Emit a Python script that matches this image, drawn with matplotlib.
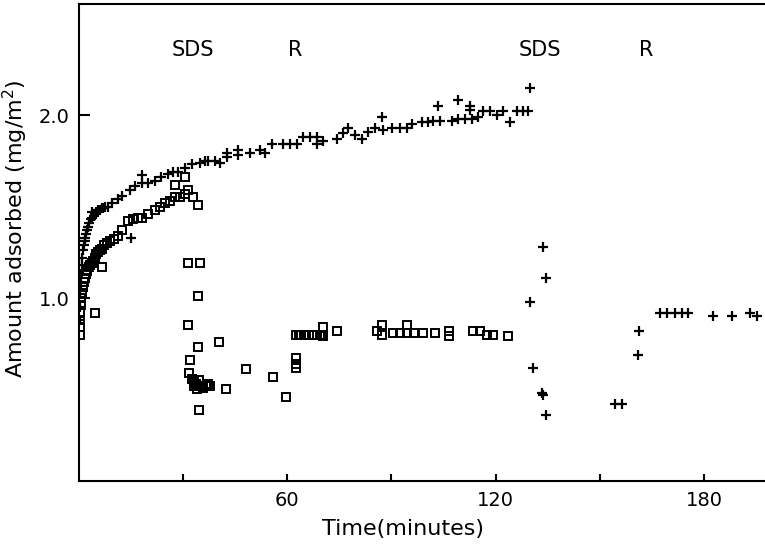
import matplotlib
matplotlib.use("Agg")
import matplotlib.pyplot as plt

plt.rcParams['font.family'] = ['DejaVu Sans']

# Plus series: first SDS/rinse cycle and second cycle
plus_t = [0.2, 0.3, 0.4, 0.5, 0.6, 0.8, 1.0, 1.2, 1.4, 1.6, 1.8, 2.0, 2.3, 2.6, 3.0,
          3.4, 3.7, 3.8, 4.2, 4.6, 5.0, 5.5, 6.0, 6.5, 7.0, 7.5, 8.4, 9.5, 11.2, 12.5,
          14.7, 14.9, 16.0, 18.1, 18.1, 20.0, 21.9, 23.5, 25.6, 27.0, 28.5, 30.5, 32.6,
          34.9, 36.3, 37.2, 39.2, 40.6, 42.6, 42.6, 45.8, 45.8, 49.3, 52.1, 53.6, 55.6,
          58.8, 60.8, 62.8, 64.5, 66.6, 68.6, 68.6, 70.3, 74.3, 76.1, 77.5, 79.5, 81.5,
          83.3, 85.3, 87.3, 87.6, 90.2, 92.5, 94.5, 95.9, 98.8, 100.5, 102.0, 103.4,
          104.0, 107.5, 109.2, 109.2, 111.2, 112.6, 112.6, 113.2, 115.0, 116.4, 118.4,
          120.4, 122.2, 124.2, 126.2, 127.9, 129.4, 129.9,
          133.7, 134.5, 129.9, 130.8, 133.4, 133.6, 134.5, 154.4, 156.4, 161.0, 161.3,
          167.4, 169.5, 171.6, 173.7, 175.5, 182.7, 188.1, 193.3, 195.3]
plus_v = [0.88, 0.95, 1.02, 1.08, 1.13, 1.18, 1.22, 1.26, 1.29, 1.31, 1.33, 1.35, 1.37, 1.39, 1.41,
          1.43, 1.47, 1.44, 1.45, 1.46, 1.47, 1.48, 1.48, 1.49, 1.49, 1.50, 1.50, 1.52, 1.54, 1.56,
          1.59, 1.33, 1.61, 1.63, 1.67, 1.63, 1.64, 1.66, 1.68, 1.69, 1.69, 1.71, 1.73,
          1.74, 1.75, 1.75, 1.75, 1.74, 1.79, 1.77, 1.81, 1.78, 1.79, 1.81, 1.79, 1.84,
          1.84, 1.84, 1.84, 1.88, 1.88, 1.88, 1.84, 1.86, 1.87, 1.90, 1.93, 1.89, 1.87,
          1.91, 1.93, 1.99, 1.92, 1.93, 1.93, 1.93, 1.95, 1.96, 1.96, 1.97, 2.05,
          1.97, 1.97, 1.98, 2.08, 1.98, 2.05, 2.03, 1.98, 1.99, 2.02, 2.02,
          2.00, 2.02, 1.96, 2.02, 2.02, 2.02, 2.15,
          1.28, 1.11, 0.98, 0.62, 0.48, 0.47, 0.36, 0.42, 0.42, 0.69, 0.82,
          0.92, 0.92, 0.92, 0.92, 0.92, 0.90, 0.90, 0.92, 0.90]

# Square series
sq_t = [0.2, 0.2, 0.3, 0.4, 0.5, 0.7, 0.9, 1.1, 1.4, 1.7, 2.0, 2.4, 2.8, 3.2, 3.6,
        4.0, 4.6, 5.0, 5.5, 6.0, 6.6, 7.2, 8.0, 9.0, 10.2, 11.2, 12.5, 14.1, 15.5,
        17.0, 18.1, 20.0, 21.9, 23.4, 24.8, 26.3, 27.7, 29.0, 30.5, 31.4, 32.8, 34.3,
        27.7, 30.5, 4.6, 6.6,
        31.4, 34.9, 34.3, 31.4, 34.3, 32.0, 31.7, 32.5, 33.2, 33.8, 34.5, 35.2, 35.8,
        36.5, 37.2, 37.7, 33.0, 34.0, 42.3, 34.6, 40.3, 48.1, 55.9, 59.6, 62.5, 62.5,
        62.5, 62.5, 63.3, 64.0, 64.8, 65.5, 66.3, 67.0, 67.8, 68.5, 69.3, 70.0, 70.3,
        70.3, 74.3, 85.9, 87.3, 87.3, 90.5, 92.5, 94.5, 94.5, 96.5, 99.1, 102.6, 106.6,
        106.6, 113.5, 115.5, 117.5, 119.3, 123.6]
sq_v = [0.80, 0.84, 0.88, 0.92, 0.96, 1.00, 1.03, 1.06, 1.09, 1.11, 1.13, 1.15, 1.17, 1.18, 1.19,
        1.20, 1.22, 1.24, 1.25, 1.26, 1.27, 1.29, 1.30, 1.31, 1.32, 1.34, 1.37, 1.42, 1.43,
        1.44, 1.44, 1.46, 1.48, 1.50, 1.52, 1.53, 1.55, 1.55, 1.57, 1.59, 1.55, 1.51,
        1.62, 1.66, 0.92, 1.17,
        1.19, 1.19, 1.01, 0.85, 0.73, 0.66, 0.59, 0.56, 0.54, 0.53, 0.55, 0.52, 0.51,
        0.52, 0.53, 0.52, 0.52, 0.50, 0.50, 0.39, 0.76, 0.61, 0.57, 0.46, 0.64, 0.67,
        0.62, 0.80, 0.80, 0.80, 0.80, 0.80, 0.80, 0.80, 0.80, 0.80, 0.80, 0.80, 0.84,
        0.79, 0.82, 0.82, 0.85, 0.80, 0.81, 0.81, 0.85, 0.81, 0.81, 0.81, 0.81, 0.82,
        0.79, 0.82, 0.82, 0.80, 0.80, 0.79]

event_labels = ["SDS", "R", "SDS", "R"]
event_t = [32.8, 62.2, 132.8, 163.4]

fig = plt.figure(figsize=(7.65, 5.48), dpi=100)
ax = fig.add_axes([0.1033, 0.1223, 0.8967, 0.8704])

ax.plot(sq_t, sq_v, linestyle='none', marker='s', markersize=5.5,
        markerfacecolor='none', markeredgecolor='black', markeredgewidth=1.4)
ax.plot(plus_t, plus_v, linestyle='none', marker='+', markersize=7,
        color='black', markeredgewidth=1.6)

for lab, t in zip(event_labels, event_t):
    ax.text(t, 2.355, lab, ha='center', va='center', fontsize=15)

ax.set_xlim(0, 197.6)
ax.set_ylim(0, 2.607)
ax.set_xticks([30, 60, 90, 120, 150, 180])
ax.set_xticklabels(["", "60", "", "120", "", "180"])
ax.set_yticks([1.0, 2.0])
ax.set_yticklabels(["1.0", "2.0"])
ax.tick_params(axis='x', direction='in', length=5, width=1.5, labelsize=14, pad=7)
ax.tick_params(axis='y', direction='in', length=8, width=1.5, labelsize=14, pad=7)

for s in ['left', 'bottom', 'top']:
    ax.spines[s].set_linewidth(1.5)
ax.spines['right'].set_visible(False)

ax.set_xlabel("Time(minutes)", fontsize=16)
ax.set_ylabel("Amount adsorbed (mg/m$^2$)", fontsize=16)
ax.xaxis.set_label_coords(0.4716, -0.08)
ax.yaxis.set_label_coords(-0.0714, 0.528)

fig.savefig("out.png", dpi=100)
